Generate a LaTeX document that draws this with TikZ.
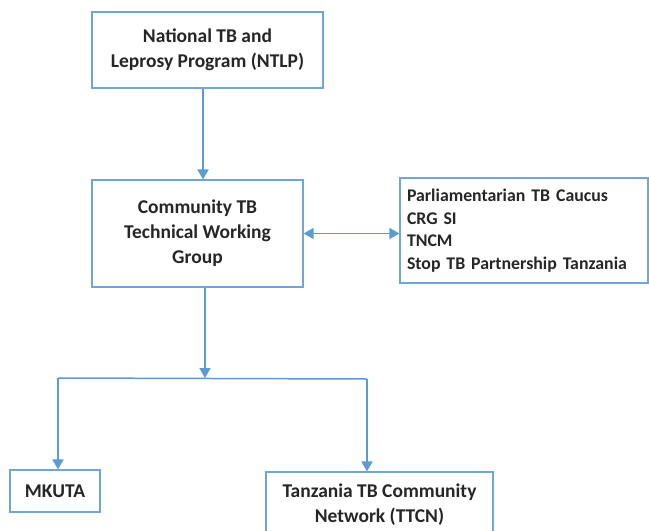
\documentclass[tikz,border=0pt]{standalone}
\usepackage{fontspec}
\setmainfont{Carlito}
\usetikzlibrary{arrows.meta}
\definecolor{lblue}{HTML}{5B9BD5}
\definecolor{bblue}{HTML}{6FA6DA}
\tikzset{
  box/.style={draw=bblue, line width=1.2pt, fill=white, inner sep=0pt, align=center,
    font=\bfseries\fontsize{19.5}{25}\selectfont, text=black!85},
  conn/.style={draw=lblue, line width=1.5pt},
  arr/.style={conn, -{Triangle[width=11pt,length=10pt]}},
  darr/.style={conn, {Triangle[width=11pt,length=10pt]}-{Triangle[width=11pt,length=10pt]}}
}
\begin{document}
\begin{tikzpicture}[x=1pt,y=-1pt]
\useasboundingbox (0,0) rectangle (649,531);
\fill[white] (0,0) rectangle (649,531);
\node[box, minimum width=231pt, minimum height=76pt] (ntlp) at (207.5,50)
  {National TB and\\Leprosy Program (NTLP)};
\node[box, minimum width=211pt, minimum height=107pt] (ctwg) at (197.5,233.5)
  {Community TB\\Technical Working\\Group};
\node[box, minimum width=248pt, minimum height=105pt, align=left, text width=234pt,
  font=\bfseries\fontsize{17.8}{22.5}\selectfont] (part) at (524,230.5)
  {Parliamentarian TB Caucus\\CRG SI\\TNCM\\Stop TB Partnership Tanzania};
\node[box, minimum width=90pt, minimum height=42pt] (mkuta) at (55,491) {MKUTA};
\node[box, minimum width=227pt, minimum height=66pt] (ttcn) at (379.5,505)
  {Tanzania TB Community\\Network (TTCN)};
\coordinate (c1) at (203,0);
\coordinate (c2) at (205,0);
\coordinate (j) at (205,378);
\coordinate (jl) at (58,378);
\coordinate (jr) at (367,379);
\draw[arr] (ntlp.south -| c1) -- (ctwg.north -| c1);
\draw[darr] (ctwg.east) -- (ctwg.east -| part.west);
\draw[arr] (ctwg.south -| c2) -- (j);
\draw[conn] (jl) -- (jr);
\draw[arr] (jl) -- (jl |- mkuta.north);
\draw[arr] (jr) -- (jr |- ttcn.north);
\end{tikzpicture}
\end{document}
